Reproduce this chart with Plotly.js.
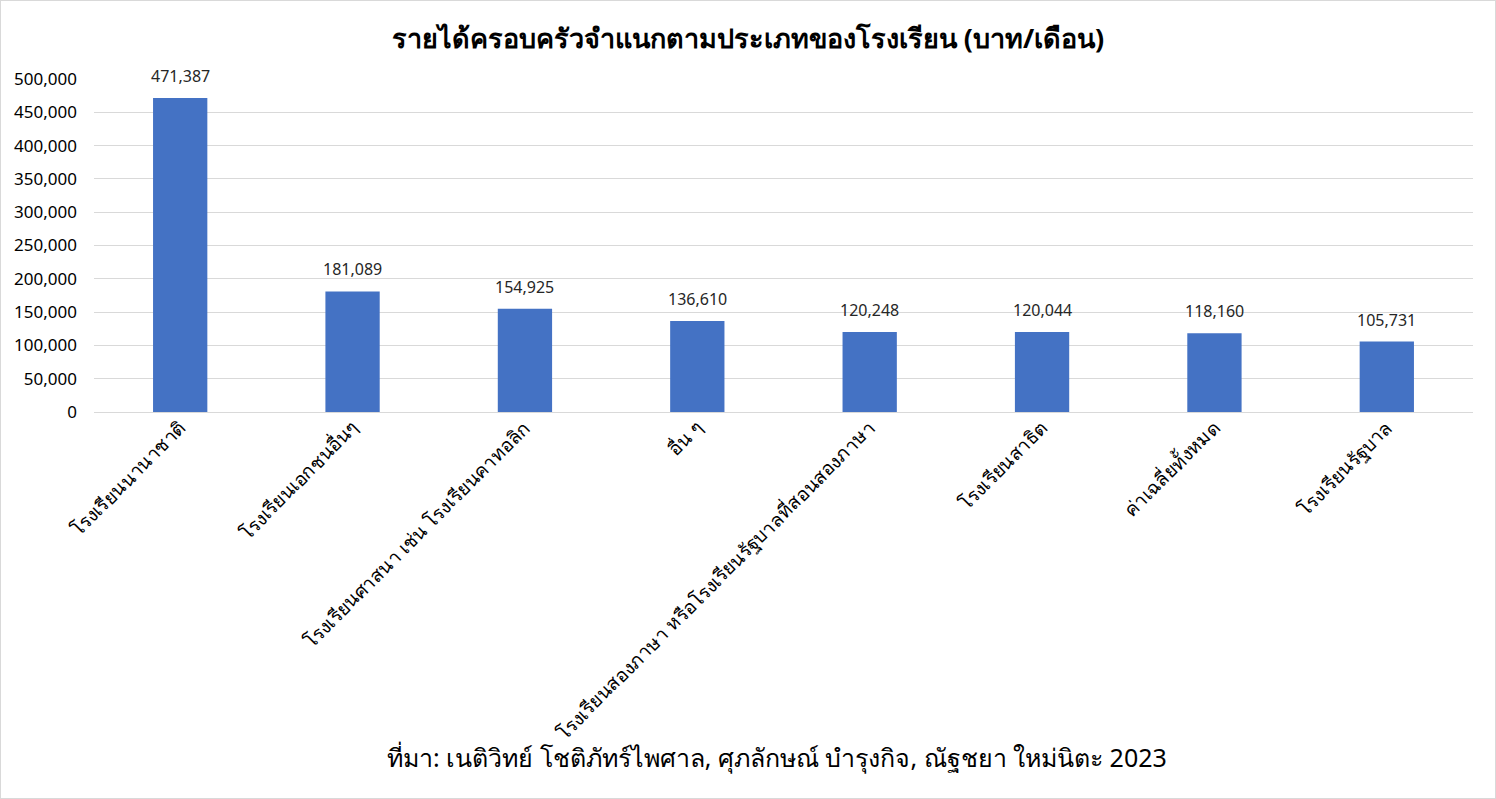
<!DOCTYPE html>
<html>
<head>
<meta charset="utf-8">
<script src="https://cdn.plot.ly/plotly-3.0.1.min.js"></script>
<style>
html,body{margin:0;padding:0;background:#fff;}
#chart{width:1494px;height:797px;border:1px solid #d9d9d9;}
</style>
</head>
<body>
<div id="chart"></div>
<script>
const categories = [
  "โรงเรียนนานาชาติ",
  "โรงเรียนเอกชนอื่นๆ",
  "โรงเรียนศาสนา เช่น โรงเรียนคาทอลิก",
  "อื่น ๆ",
  "โรงเรียนสองภาษา หรือโรงเรียนรัฐบาลที่สอนสองภาษา",
  "โรงเรียนสาธิต",
  "ค่าเฉลี่ยทั้งหมด",
  "โรงเรียนรัฐบาล"
];
const incomes = [471387, 181089, 154925, 136610, 120248, 120044, 118160, 105731];
const yTicks = [0, 50000, 100000, 150000, 200000, 250000, 300000, 350000, 400000, 450000, 500000];
const titleText = "รายได้ครอบครัวจำแนกตามประเภทของโรงเรียน (บาท/เดือน)";
const sourceText = "ที่มา: เนติวิทย์ โชติภัทร์ไพศาล, ศุภลักษณ์ บำรุงกิจ, ณัฐชยา ใหม่นิตะ 2023";

const font = "Noto Sans, DejaVu Sans, sans-serif";

const trace = {
  type: "bar",
  x: categories,
  y: incomes,
  marker: {color: "#4472c4"},
  hoverinfo: "x+y"
};

const valueLabels = categories.map((c, i) => ({
  x: c, y: incomes[i],
  xref: "x", yref: "y",
  text: incomes[i].toLocaleString("en-US"),
  showarrow: false,
  yanchor: "bottom",
  yshift: 9,
  font: {family: font, size: 16, color: "#262626"}
}));

const layout = {
  width: 1494,
  height: 797,
  margin: {l: 93, r: 22, t: 78, b: 386},
  paper_bgcolor: "#ffffff",
  plot_bgcolor: "#ffffff",
  bargap: 0.685,
  showlegend: false,
  title: {
    text: "<b>" + titleText + "</b>",
    x: 0.5, xanchor: "center",
    y: 0.953, yanchor: "middle",
    font: {family: font, size: 27, color: "#000000"}
  },
  xaxis: {
    tickangle: -45,
    tickfont: {family: font, size: 19, color: "#000000"},
    showline: false,
    ticks: "",
    automargin: false
  },
  yaxis: {
    range: [0, 500000],
    tickvals: yTicks,
    tickformat: ",",
    tickfont: {family: font, size: 17, color: "#000000"},
    showgrid: true,
    gridcolor: "#d9d9d9",
    gridwidth: 1,
    zeroline: true,
    zerolinecolor: "#d9d9d9",
    zerolinewidth: 1,
    ticks: "",
    ticklabelstandoff: 16,
    automargin: false
  },
  annotations: valueLabels.concat([{
    text: sourceText,
    xref: "paper", yref: "paper",
    x: 0.5, y: -1.036, xshift: -7,
    xanchor: "center", yanchor: "middle",
    showarrow: false,
    font: {family: font, size: 25, color: "#000000"}
  }])
};

Plotly.newPlot("chart", [trace], layout, {displayModeBar: false, staticPlot: true});
</script>
</body>
</html>
